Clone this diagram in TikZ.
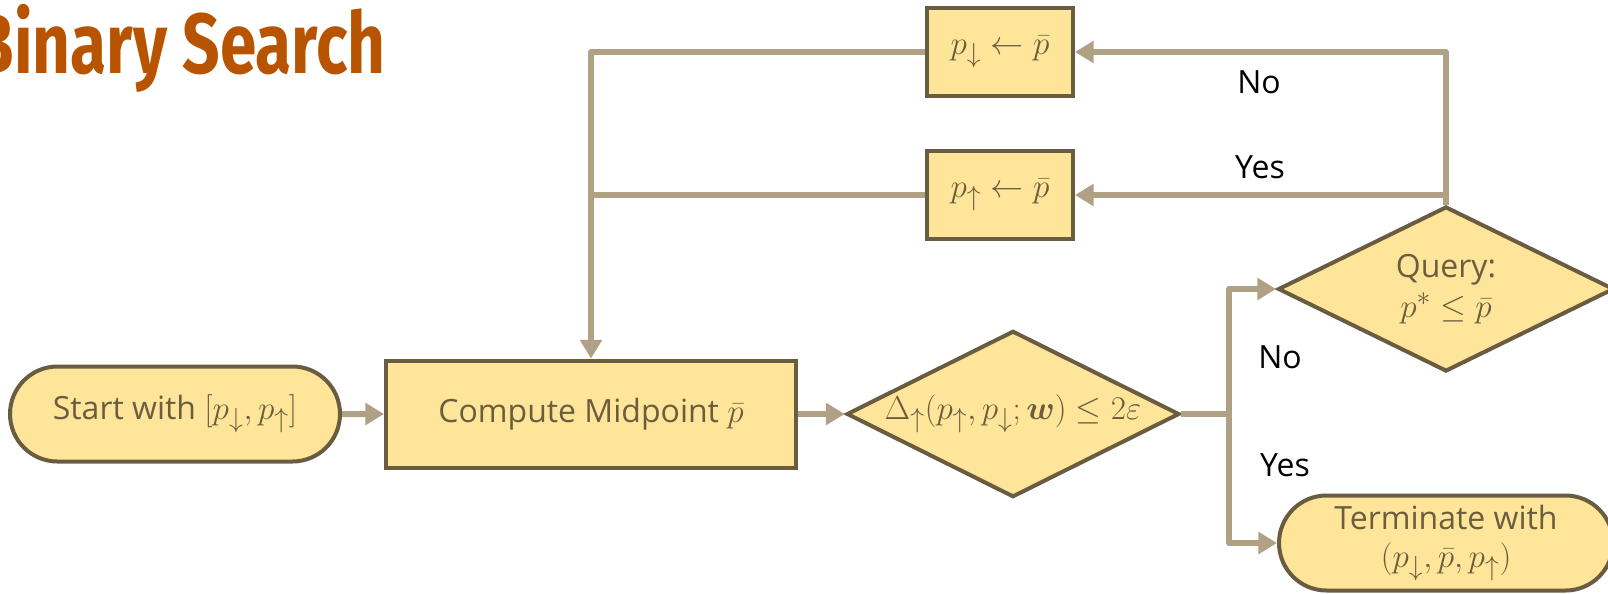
\documentclass[tikz,border=0pt]{standalone}
\usepackage{amsmath}
\usepackage{fontspec}
\setmainfont{Open Sans}
\newfontfamily\titlefont[FakeStretch=0.77]{Fira Sans}
\usetikzlibrary{shapes.geometric,shapes.misc,arrows.meta}
\definecolor{nodefill}{HTML}{FFE599}
\definecolor{nodeline}{HTML}{6A5C41}
\definecolor{nodetext}{HTML}{6B5E3F}
\definecolor{conncol}{HTML}{B0A084}
\definecolor{titlecol}{HTML}{B85400}
\newcommand\mth[1]{{\fontsize{28}{32}\selectfont$#1$}}
\begin{document}
\begin{tikzpicture}[x=0.75pt,y=-0.75pt,
  base/.style={draw=nodeline,fill=nodefill,line width=3pt,text=nodetext,font=\fontsize{24}{30}\selectfont,align=center,inner sep=0pt},
  boxnode/.style={base,rectangle},
  roundnode/.style={base,rounded rectangle},
  decision/.style={base,diamond,aspect=2},
  conn/.style={draw=conncol,line width=4.5pt,line join=round,-{Triangle[length=14pt,width=16pt]}},
  plain/.style={draw=conncol,line width=4.5pt,line join=round},
  lbl/.style={font=\fontsize{24}{30}\selectfont,text=black,inner sep=0pt}
]
\path[use as bounding box] (0,0) rectangle (1608,593);
\node[anchor=base east,text=titlecol,font=\titlefont\bfseries\fontsize{64}{70}\selectfont,inner sep=0pt] (title) at (386,73) {Binary Search};

\node[roundnode,minimum width={330*0.75pt},minimum height={95*0.75pt}] (start) at (175,414) {Start with \mth{[p_{\downarrow},p_{\uparrow}]}};
\node[boxnode,minimum width={410*0.75pt},minimum height={107*0.75pt}] (compute) at (591,414) {Compute Midpoint \mth{\bar{p}}};
\node[decision,minimum width={332*0.75pt},minimum height={165*0.75pt}] (check) at (1013,414) {\mth{\Delta_{\uparrow}(p_{\uparrow},p_{\downarrow};\boldsymbol{w})\leq 2\varepsilon}};
\node[decision,minimum width={336*0.75pt},minimum height={165*0.75pt}] (query) at (1446,289) {Query:\\\mth{p^{*}\leq\bar{p}}};
\node[roundnode,minimum width={334*0.75pt},minimum height={95*0.75pt}] (term) at (1446,543) {Terminate with\\[-2pt]\mth{(p_{\downarrow},\bar{p},p_{\uparrow})}};
\node[boxnode,minimum width={146*0.75pt},minimum height={88*0.75pt}] (dn) at (1000,52) {\mth{p_{\downarrow}\leftarrow\bar{p}}};
\node[boxnode,minimum width={146*0.75pt},minimum height={88*0.75pt}] (up) at (1000,195) {\mth{p_{\uparrow}\leftarrow\bar{p}}};

\coordinate (split) at (1229,414);

\draw[conn] (start) -- (compute);
\draw[conn] (compute) -- (check);
\draw[plain] (check.east) -- (split);
\draw[conn] (split) |- (query.west);
\draw[conn] (split) |- (term.west);
\draw[conn] (query.north) |- (up.east);
\draw[conn] (query.north) |- (dn.east);
\draw[conn] (dn.west) -| (compute.north);
\draw[plain] (up.west) -- (compute.north |- up.west);

\node[lbl] (lno1) at (1259,82) {No};
\node[lbl] (lyes1) at (1260,167) {Yes};
\node[lbl] (lno2) at (1280,357) {No};
\node[lbl] (lyes2) at (1285,465) {Yes};
\end{tikzpicture}
\end{document}
